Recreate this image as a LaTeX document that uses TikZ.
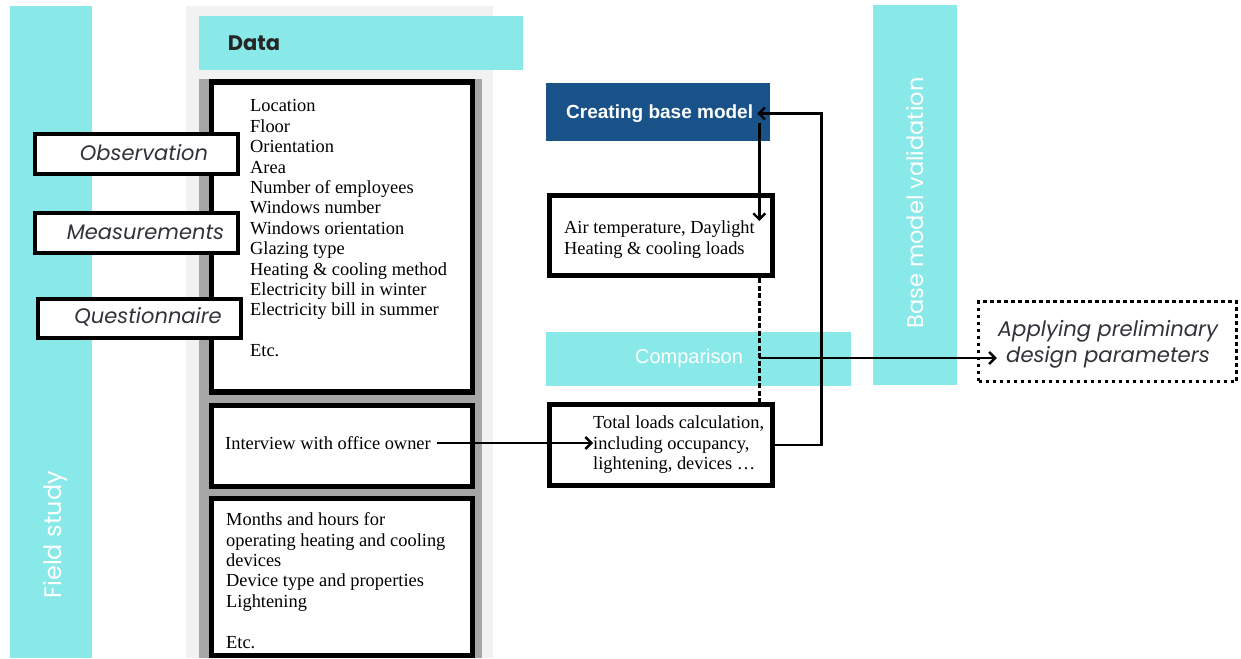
\documentclass[tikz,border=0pt]{standalone}
\usepackage{fontspec}
\setmainfont{Liberation Serif}
\setsansfont{Liberation Sans}
\newfontfamily\geo{Poppins}
\usetikzlibrary{arrows.meta}
\definecolor{aqua}{RGB}{136,233,232}
\definecolor{navy}{RGB}{24,82,136}
\definecolor{panel}{RGB}{242,242,242}
\definecolor{column}{RGB}{166,166,166}
\definecolor{ink}{RGB}{50,50,58}
\tikzset{
  band/.style={fill=aqua, draw=none},
  databox/.style={draw=black, line width=5.5pt, fill=white},
  srcbox/.style={draw=black, line width=4pt, fill=white},
  listtext/.style={inner sep=0pt, anchor=north west, align=left,
    font=\rmfamily\fontsize{18.4}{20.4}\selectfont},
  srctext/.style={inner sep=0pt, font=\geo\itshape\fontsize{21}{24}\selectfont, text=ink},
  bandtext/.style={inner sep=0pt, text=white, font=\geo\fontsize{21}{24}\selectfont},
  arr/.style={line width=2.6pt, -{Straight Barb[length=6pt,width=12pt,line width=2.4pt]}},
  dashlink/.style={line width=2.8pt, dash pattern=on 5pt off 2.5pt},
}
\begin{document}
\begin{tikzpicture}[x=1pt, y=-1pt]
\useasboundingbox (0,0) rectangle (1241,658);

% background bands and panels
\fill[band] (10,6) rectangle (92,658);
\node[bandtext, rotate=90, font=\geo\fontsize{23.9}{26}\selectfont] (field) at (55,535) {Field study};
\fill[panel] (186,6) rectangle (493,658);
\fill[band] (199,16) rectangle (523,70);
\node[inner sep=0pt, font=\geo\bfseries\fontsize{21}{24}\selectfont, text=black!85] (data) at (254,43) {Data};
\fill[column] (199,79) rectangle (482,658);

% data boxes
\node[databox, minimum width=261pt, minimum height=310pt, inner sep=0pt] (box1) at (342,237) {};
\node[databox, minimum width=261pt, minimum height=81pt, inner sep=0pt] (box2) at (342,446) {};
\node[databox, minimum width=261pt, minimum height=157pt, inner sep=0pt] (box3) at (342,577) {};

\node[listtext] (list1) at (250,99.5) {Location\\Floor\\Orientation\\Area\\Number of employees\\Windows number\\Windows orientation\\Glazing type\\Heating \& cooling method\\Electricity bill in winter\\Electricity bill in summer\\[20.4pt]Etc.};
\node[inner sep=0pt, anchor=west, font=\rmfamily\fontsize{18.4}{20.4}\selectfont] (intv) at (225,443) {Interview with office owner};
\node[listtext] (list3) at (226,512.5) {Months and hours for\\operating heating and cooling\\devices\\Device type and properties\\Lightening\\[20.4pt]Etc.};

% data sources
\node[srcbox, minimum width=203pt, minimum height=40pt] (obs) at (136.5,154) {};
\node[srctext] at (144,153) {Observation};
\node[srcbox, minimum width=203pt, minimum height=40pt] (meas) at (136.5,233) {};
\node[srctext] at (145.5,232) {Measurements};
\node[srcbox, minimum width=203pt, minimum height=39pt] (ques) at (139,318.5) {};
\node[srctext] at (148,317) {Questionnaire};

% modelling column
\fill[navy] (546,83) rectangle (770,141);
\node[inner sep=0pt, anchor=west, text=white, font=\sffamily\bfseries\fontsize{19}{22}\selectfont] (cbm) at (566,113.5) {Creating base model};

\node[databox, minimum width=223pt, minimum height=80pt, inner sep=0pt] (airbox) at (661,235.5) {};
\node[listtext] (airtx) at (564,221) {Air temperature, Daylight\\Heating \& cooling loads};

\fill[band] (546,332) rectangle (851,386);
\node[inner sep=0pt, text=white, font=\sffamily\fontsize{20}{22}\selectfont] (cmp) at (689,358) {Comparison};

\node[databox, minimum width=223pt, minimum height=81pt, inner sep=0pt] (totbox) at (661,445) {};
\node[listtext] (totx) at (593,416) {Total loads calculation,\\including occupancy,\\lightening, devices \dots};

% validation band
\fill[band] (873,5) rectangle (957,385);
\node[bandtext, rotate=90, font=\geo\fontsize{22.5}{26}\selectfont] (valid) at (915,203) {Base model validation};

% next step
\node[draw=black, line width=3.5pt, dash pattern=on 3.5pt off 3.5pt, minimum width=258pt, minimum height=80pt] (apply) at (1107.5,341.5) {};
\node[srctext, align=center, font=\geo\itshape\fontsize{21.2}{25.5}\selectfont] (apptx) at (1108,344.5) {Applying preliminary\\design parameters};

% connectors
\draw[arr] ([xshift=6pt]intv.east) -- (intv.east -| totx.west);
\draw[arr] ([xshift=6pt]cbm.south east) -- ([xshift=6pt]cbm.south east |- airtx.north);
\draw[arr] (totbox.east) -- ++(46,0) |- ([xshift=4pt]cbm.east);
\draw[dashlink] ([xshift=-16pt]airbox.south east) -- ([xshift=-16pt]totbox.north east);
\draw[arr] ([xshift=-16pt]airbox.south east |- cmp.east) -- ([xshift=20pt]apply.west |- cmp.east);
\end{tikzpicture}
\end{document}
